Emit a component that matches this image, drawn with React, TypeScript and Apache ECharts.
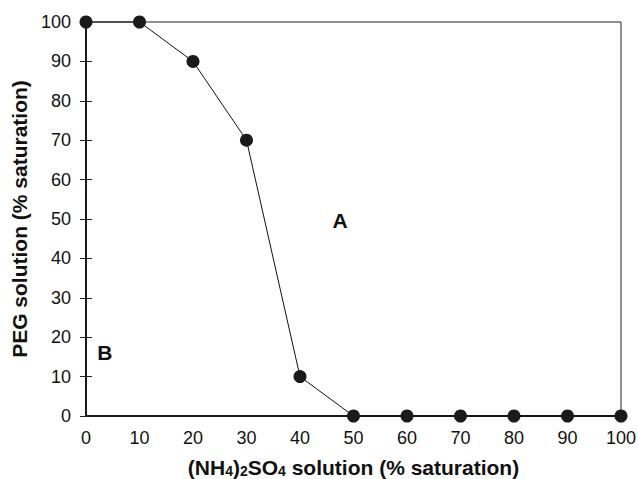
import React, { useEffect, useRef } from "react";
import * as echarts from "echarts";

const xValues = [0, 10, 20, 30, 40, 50, 60, 70, 80, 90, 100];
const pegValues = [100, 100, 90, 70, 10, 0, 0, 0, 0, 0, 0];
const regionLabels = ["A", "B"];
const regionX = [47.5, 3.5];
const regionY = [49.7, 16.2];

export default function App() {
  const ref = useRef<HTMLDivElement>(null);
  useEffect(() => {
    if (!ref.current) return;
    const chart = echarts.init(ref.current, null, { renderer: "svg" });
    const font = "'Liberation Sans', Arial, sans-serif";
    chart.setOption({
      animation: false,
      backgroundColor: "#fff",
      textStyle: { fontFamily: font },
      grid: {
        left: 86,
        right: 17,
        top: 22,
        bottom: 63,
        outerBoundsMode: "none",
        containLabel: false,
        show: true,
        borderColor: "#222",
        borderWidth: 1,
      },
      xAxis: {
        type: "value",
        min: 0,
        max: 100,
        interval: 10,
        splitLine: { show: false },
        axisLine: { lineStyle: { color: "#1a1a1a", width: 2 } },
        axisTick: { show: false },
        axisLabel: { color: "#111", fontSize: 18, margin: 13, fontFamily: font },
        name: "{a|(NH}{s|4}{a|)}{s|2}{a|SO}{s|4}{a| solution (% saturation)}",
        nameLocation: "middle",
        nameGap: 40,
        nameTextStyle: {
          rich: {
            a: { fontSize: 21, fontWeight: "bold", color: "#111", fontFamily: font, lineHeight: 22, verticalAlign: "bottom" },
            s: { fontSize: 14, fontWeight: "bold", color: "#111", fontFamily: font, lineHeight: 10, verticalAlign: "bottom" },
          },
        },
      },
      yAxis: [
        {
          type: "value",
          min: 0,
          max: 100,
          interval: 10,
          splitLine: { show: false },
          axisLine: { lineStyle: { color: "#1a1a1a", width: 2 } },
          axisTick: { show: true, length: 6, lineStyle: { color: "#222", width: 1 } },
          axisLabel: { color: "#111", fontSize: 18, margin: 15, fontFamily: font },
          name: "PEG solution (% saturation)",
          nameLocation: "middle",
          nameGap: 54,
          nameTextStyle: { fontSize: 21, fontWeight: "bold", color: "#111", fontFamily: font },
        },
        {
          type: "value",
          position: "left",
          min: 0,
          max: 100,
          interval: 10,
          splitLine: { show: false },
          axisLine: { show: false },
          axisTick: { show: true, inside: true, length: 6, lineStyle: { color: "#222", width: 1 } },
          axisLabel: { show: false },
        },
      ],
      series: [
        {
          type: "line",
          data: xValues.map((x, i) => [x, pegValues[i]]),
          symbol: "circle",
          symbolSize: 13,
          clip: false,
          lineStyle: { color: "#111", width: 1 },
          itemStyle: { color: "#1a1a1a" },
          z: 5,
        },
        {
          type: "scatter",
          data: regionLabels.map((_, i) => [regionX[i], regionY[i]]),
          symbolSize: 0,
          silent: true,
          itemStyle: { opacity: 1, color: "#111" },
          label: {
            show: true,
            position: "inside",
            formatter: (p: any) => regionLabels[p.dataIndex],
            fontSize: 21,
            fontWeight: "bold",
            color: "#111",
            opacity: 1,
            fontFamily: font,
          },
        },
      ],
    });
    return () => chart.dispose();
  }, []);
  return (
    <div
      ref={ref}
      style={{ position: "fixed", left: 0, top: 0, width: 638, height: 479 }}
    />
  );
}
